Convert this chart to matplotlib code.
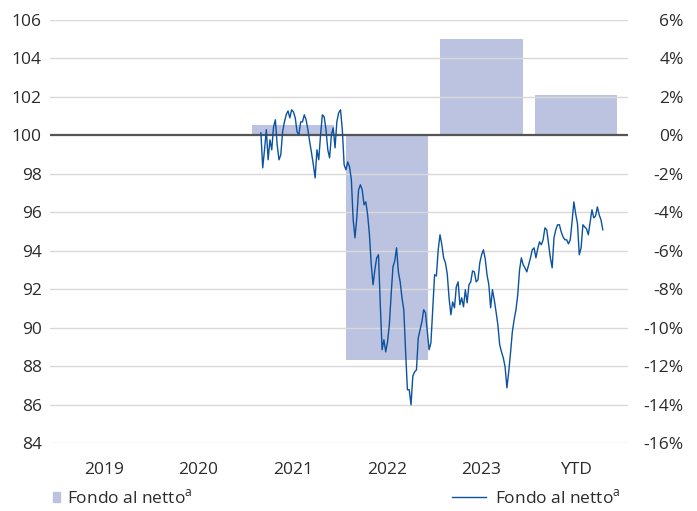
import numpy as np
import pandas as pd
import matplotlib
matplotlib.use('Agg')
import matplotlib.pyplot as plt
from matplotlib.lines import Line2D
from matplotlib.patches import Patch

plt.rcParams['font.family'] = ['Open Sans', 'DejaVu Sans']
plt.rcParams['mathtext.fontset'] = 'custom'
plt.rcParams['mathtext.rm'] = 'Open Sans'

# calendar-year returns of the fund (right axis, %)
years = [2019, 2020, 2021, 2022, 2023, 2024]
year_labels = ['2019', '2020', '2021', '2022', '2023', 'YTD']
annual_return = [None, None, 0.55, -11.7, 5.0, 2.1]

# weekly index level of the fund (left axis, base 100)
line_start = '2021-03-01'
fund_level = [
    100.13, 98.31, 99.25, 100.29, 98.73, 99.77, 99.25, 100.44, 100.81, 99.51,
    98.73, 98.99, 100.18, 100.70, 101.07, 101.27, 100.91, 101.33, 101.22, 100.91,
    100.18, 100.03, 100.70, 100.70, 101.07, 100.81, 100.29, 99.66, 99.09, 98.47,
    97.79, 99.25, 98.73, 100.03, 101.07, 100.96, 100.29, 99.25, 98.83, 100.03,
    100.39, 99.35, 100.70, 101.17, 101.33, 100.29, 98.47, 98.21, 98.62, 98.36,
    97.69, 95.61, 94.67, 95.71, 97.17, 97.43, 97.17, 96.39, 96.54, 95.87,
    94.83, 93.27, 92.23, 93.01, 93.63, 93.79, 91.19, 88.85, 89.37, 88.74,
    89.26, 90.15, 91.71, 93.16, 93.47, 94.15, 92.90, 92.38, 91.55, 90.93,
    88.74, 86.77, 86.77, 85.99, 87.49, 87.70, 87.80, 89.47, 89.89, 90.30,
    90.93, 90.77, 89.78, 88.85, 89.21, 90.93, 92.75, 92.69, 94.05, 94.83,
    94.31, 93.63, 93.37, 92.80, 91.55, 90.67, 91.34, 91.03, 92.12, 92.38,
    91.19, 91.55, 91.08, 91.97, 91.29, 92.23, 92.38, 92.95, 92.90, 92.38,
    92.49, 93.37, 93.79, 94.05, 93.58, 92.75, 92.23, 91.03, 91.97, 91.45,
    90.82, 90.15, 89.11, 88.74, 88.43, 87.96, 86.87, 87.70, 88.69, 89.78,
    90.41, 90.93, 91.71, 93.01, 93.63, 93.27, 93.11, 92.90, 93.27, 93.63,
    94.05, 94.15, 93.63, 94.10, 94.46, 94.31, 94.57, 95.19, 95.09, 94.36,
    93.63, 93.11, 94.67, 95.09, 95.35, 95.35, 94.98, 94.72, 94.57, 94.57,
    94.36, 94.57, 95.50, 96.54, 95.92, 95.40, 93.79, 94.15, 95.35, 95.24,
    95.14, 94.83, 95.50, 96.13, 95.71, 95.81, 96.28, 95.87, 95.61, 95.09,
]
left_ticks = [84, 86, 88, 90, 92, 94, 96, 98, 100, 102, 104, 106]
right_ticks = [-16, -14, -12, -10, -8, -6, -4, -2, 0, 2, 4, 6]

bar_color = '#bcc3e0'
line_color = '#0b52a0'
text_color = '#2b2b2b'
label = 'Fondo al netto$^{\\mathrm{a}}$'

dates = pd.date_range(line_start, periods=len(fund_level), freq='7D')
t = dates.year + (dates.dayofyear - 1) / 365.25

fig = plt.figure(figsize=(6.97, 5.11), dpi=100)
ax = fig.add_axes([50 / 697, 1 - 443 / 511, 578 / 697, 423 / 511])
ax2 = ax.twinx()

# bars on the return axis
for y, r in zip(years, annual_return):
    if r is None:
        continue
    ax2.bar(y + 0.5, r, width=0.87, color=bar_color, zorder=1)

ax2.axhline(0, color='#555555', lw=1.6, zorder=2)
ax2.set_ylim(-16, 6)
ax2.set_yticks(right_ticks)
ax2.set_yticklabels(['%d%%' % v for v in right_ticks])

ax.set_ylim(84, 106)
ax.set_yticks(left_ticks)
ax.set_yticklabels([str(v) for v in left_ticks])
for v in left_ticks:
    if v != 100:
        ax.axhline(v, color='#d9d9d9', lw=1.0, zorder=0)

# draw the line on top of the bars
ax.set_zorder(ax2.get_zorder() + 1)
ax.patch.set_visible(False)
ax.plot(t, fund_level, color=line_color, lw=1.0, zorder=3)

ax.set_xlim(2019 - 7 / 94.33, 2025 + 5 / 94.33)
ax.set_xticks([y + 0.5 for y in years])
ax.set_xticklabels(year_labels)

for a in (ax, ax2):
    for s in a.spines.values():
        s.set_visible(False)
    a.tick_params(length=0, labelsize=12.5, colors=text_color)
ax.tick_params(axis='y', pad=6)
ax.tick_params(axis='x', pad=14)
ax2.tick_params(axis='y', pad=40)
for lab in ax2.get_yticklabels():
    lab.set_horizontalalignment('right')

leg1 = fig.legend(handles=[Patch(color=bar_color, label=label)],
                  loc='center left', bbox_to_anchor=(37 / 697, 1 - 498 / 511),
                  frameon=False, fontsize=12.5, handlelength=0.45, handleheight=0.45,
                  handletextpad=0.35, labelcolor=text_color)
leg2 = fig.legend(handles=[Line2D([], [], color=line_color, lw=1.0, label=label)],
                  loc='center left', bbox_to_anchor=(436 / 697, 1 - 498 / 511),
                  frameon=False, fontsize=12.5, handlelength=2.0,
                  handletextpad=0.5, labelcolor=text_color)

fig.savefig('out.png', dpi=100)
